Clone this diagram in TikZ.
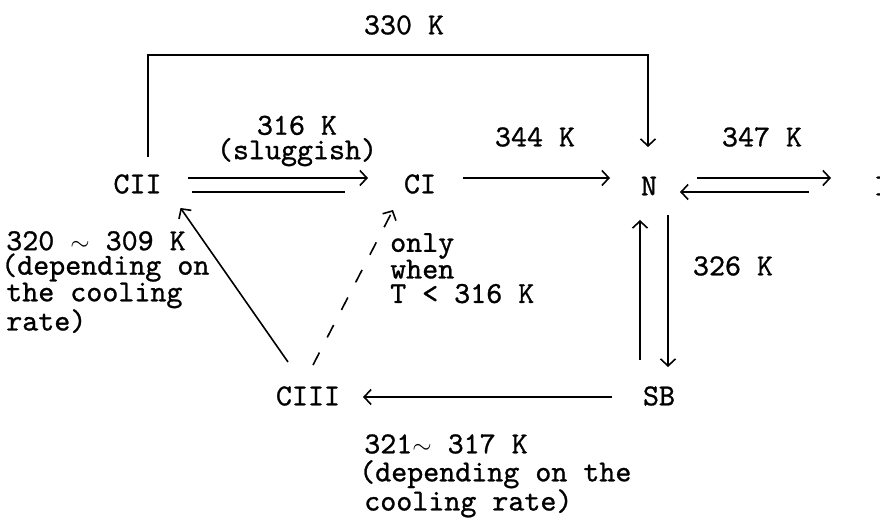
\documentclass[tikz,border=0pt]{standalone}
\usepackage{fontspec}
\newfontfamily\twfont{lmmono10-regular}[Extension=.otf,FakeBold=0.9]
\usetikzlibrary{arrows.meta,calc}
\tikzset{
  lbl/.style={inner sep=0pt,font=\fontsize{30.5}{24.5}\selectfont\twfont},
  state/.style={lbl},
  conn/.style={line width=1.6pt,-{Straight Barb[length=7pt,width=15pt,line width=1.6pt]}},
  plain/.style={line width=1.6pt},
  dsh/.style={conn,dash pattern=on 14pt off 17pt},
}
\begin{document}
\begin{tikzpicture}[x=1pt,y=-1pt]
\useasboundingbox (0,0) rectangle (880,521);
% states
\node[state] (cii) at (137.5,184) {CII};
\node[state] (ci) at (420,184) {CI};
\node[state] (n) at (649,186) {N};
\node[state] (i) at (882,186) {I};
\node[state] (ciii) at (308,396) {CIII};
\node[state] (sb) at (659,396) {SB};
\coordinate (top) at (0,55);
\coordinate (ta) at ($(cii)+(10.5,-27)$);
\coordinate (tb) at ($(n)+(-1,-39)$);
% connectors
\draw[conn] (ta) -- (ta |- top) -| (tb);
\draw[conn] ($(cii)+(50.5,-6)$) -- ($(ci)+(-52,-6)$);
\draw[plain] ($(cii)+(54.5,8)$) -- ($(ci)+(-75,8)$);
\draw[conn] ($(ci)+(43,-6)$) -- ($(n)+(-39,-8)$);
\draw[conn] ($(n)+(48,-8)$) -- ($(i)+(-51,-8)$);
\draw[conn] ($(i)+(-73,6)$) -- ($(n)+(31,6)$);
\draw[conn] ($(sb)+(-19,-36)$) -- ($(n)+(-9,34)$);
\draw[conn] ($(n)+(19,29)$) -- ($(sb)+(9,-29)$);
\draw[conn] ($(sb)+(-47,1)$) -- ($(ciii)+(55,1)$);
\draw[conn] ($(ciii)+(-20,-34)$) -- ($(cii)+(43,24)$);
\draw[dsh] ($(ciii)+(5,-31)$) -- ($(ci)+(-27,26)$);
% labels
\node[lbl] (l330) at (404,25) {330 K};
\node[lbl,align=center] (l316) at (297,141) {316 K\\(sluggish)};
\node[lbl] (l344) at (535,137) {344 K};
\node[lbl] (l347) at (762,137) {347 K};
\node[lbl] (l326) at (733,266) {326 K};
\node[lbl,align=left,anchor=north west] (lleft) at (1,231) {\,320 $\sim$ 309 K\\(depending on\\\,the cooling\\\,rate)};
\node[lbl,align=left,anchor=north west] (lonly) at (390,233) {only\\when\\T < 316 K};
\node[lbl,align=left,anchor=north west,font=\fontsize{30.5}{28}\selectfont\twfont] (lbot) at (359,434) {\,321$\sim$ 317 K\\(depending on the\\\,cooling rate)};
\end{tikzpicture}
\end{document}
